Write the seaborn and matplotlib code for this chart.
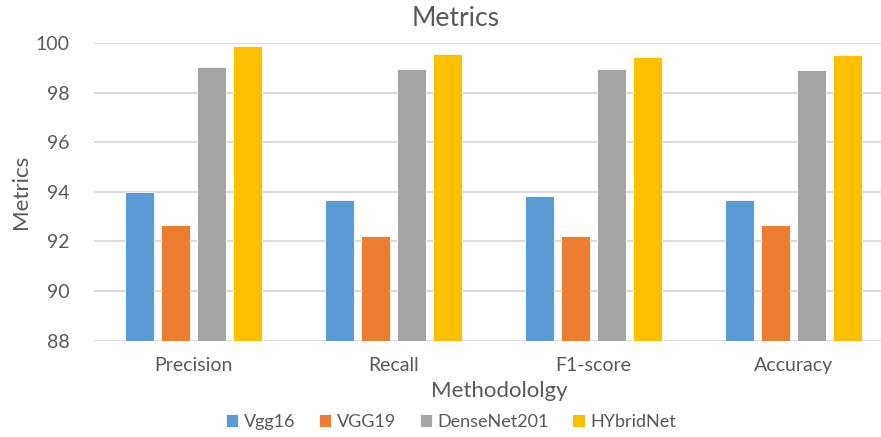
import seaborn as sns
import matplotlib.pyplot as plt
import pandas as pd

categories = ["Precision", "Recall", "F1-score", "Accuracy"]
models = ["Vgg16", "VGG19", "DenseNet201", "HYbridNet"]
vgg16 = [94.0, 93.67, 93.82, 93.67]
vgg19 = [92.65, 92.24, 92.24, 92.65]
densenet201 = [99.02, 98.94, 98.94, 98.91]
hybridnet = [99.87, 99.54, 99.45, 99.52]
colors = ["#5B9BD5", "#ED7D31", "#A5A5A5", "#FFC000"]

rows = []
for model, vals in zip(models, [vgg16, vgg19, densenet201, hybridnet]):
    for cat, v in zip(categories, vals):
        rows.append({"Methodololgy": cat, "Model": model, "Metrics": v})
df = pd.DataFrame(rows)

sns.set_theme(style="white")
plt.rcParams["font.family"] = ["Lato", "DejaVu Sans"]
text_color = "#595959"

W, H = 881, 437
fig = plt.figure(figsize=(W / 100, H / 100), dpi=100)
# plot area runs past the right edge, like the cropped original
ax = fig.add_axes([93.5 / W, (H - 340.7) / H, 800 / W, 297.7 / H])

sns.barplot(data=df, x="Methodololgy", y="Metrics", hue="Model",
            palette=colors, saturation=1, width=0.72, gap=0.21, ax=ax,
            edgecolor="white", linewidth=0.6, zorder=3)

ax.set_ylim(88, 100)
ax.set_xlim(-0.5, 3.5)
ax.set_yticks(range(88, 101, 2))
ax.yaxis.grid(True, color="#D9D9D9", linewidth=1.3, zorder=0)
for s in ax.spines.values():
    s.set_visible(False)
ax.tick_params(axis="both", length=0, colors=text_color, labelsize=14)
ax.tick_params(axis="y", pad=17)
ax.tick_params(axis="x", pad=12)

ax.set_title("Metrics", fontsize=19, color=text_color, va="center",
             x=(456 - 93.5) / 800, y=1 + (43 - 18) / 297.7, pad=0)
ax.set_ylabel("Metrics", fontsize=16, color=text_color)
ax.yaxis.label.set_va("center")
ax.yaxis.set_label_coords(-(93.5 - 21) / 800, 0.5)
ax.set_xlabel("Methodololgy", fontsize=16, color=text_color)
ax.xaxis.label.set_va("center")
ax.xaxis.set_label_coords((499 - 93.5) / 800, -(391 - 340.7) / 297.7)

handles, labels = ax.get_legend_handles_labels()
ax.legend_.remove()
fig.legend(handles, labels, loc="center", bbox_to_anchor=(451 / W, 1 - 422 / H),
           ncol=4, frameon=False, fontsize=13, handlelength=0.7,
           handleheight=0.7, handletextpad=0.3, columnspacing=1.3,
           labelcolor=text_color)

fig.savefig("out.png", dpi=100)
